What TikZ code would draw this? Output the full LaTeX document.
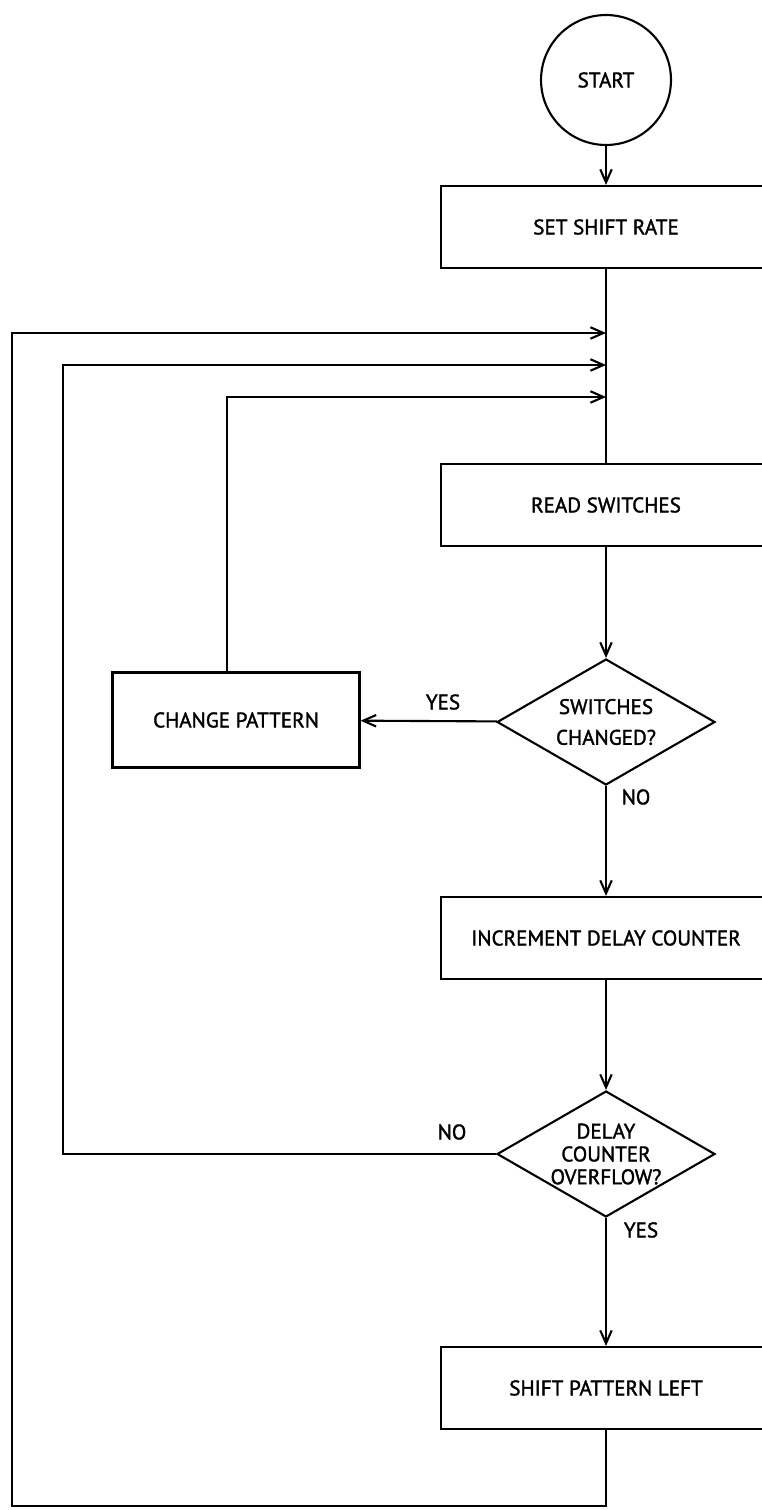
\documentclass[tikz,border=0pt]{standalone}
\usepackage{fontspec}
\setmainfont{PT Sans}
\newfontfamily\chartfont[FakeBold=1.6]{PT Sans}
\usetikzlibrary{arrows.meta,shapes.geometric}

\begin{document}
\begin{tikzpicture}[x=0.02cm,y=-0.02cm,line width=1.2pt,>={Straight Barb[length=2.6mm,width=2.3mm]},
  txt/.style={font=\chartfont\fontsize{12}{14}\selectfont},
  proc/.style={txt,draw,minimum width=6.6cm,minimum height=1.64cm,inner sep=2pt},
  dec/.style={draw,diamond,aspect=1.73,minimum width=4.36cm,minimum height=2.52cm,inner sep=-6pt,align=center}]
\useasboundingbox (0,0) rectangle (761,1510);
% main column
\node[txt,draw,circle,minimum size=2.6cm] (start) at (606,80) {START};
\node[proc] (set_rate) at (606,227) {SET SHIFT RATE};
\node[proc] (read_sw) at (606,505) {READ SWITCHES};
\node[dec,font=\chartfont\fontsize{12}{17.5}\selectfont] (sw_chg) at (606,722) {SWITCHES\\CHANGED?};
\node[txt,draw,minimum width=4.94cm,minimum height=1.9cm] (chg_pat) at (236,720) {CHANGE PATTERN};
\node[proc] (inc_dly) at (606,938) {INCREMENT DELAY COUNTER};
\node[dec,font=\chartfont\fontsize{12}{13}\selectfont] (dly_ovf) at (606,1154) {DELAY\\COUNTER\\OVERFLOW?};
\node[proc] (shift_l) at (606,1388) {SHIFT PATTERN LEFT};
% branch labels
\node[txt] (yes_a) at (443,702) {YES};
\node[txt] (no_a) at (636,797) {NO};
\node[txt] (no_b) at (452,1132) {NO};
\node[txt] (yes_b) at (641,1230) {YES};
% loop points
\coordinate (in1) at (606,333);
\coordinate (in2) at (606,365);
\coordinate (in3) at (606,397);
\coordinate (c1) at (12,333);
\coordinate (c2) at (63,365);
\coordinate (c3) at (227,397);
\coordinate (bot) at (12,1506);
% connectors
\draw[->] (start) -- (set_rate);
\draw (set_rate) -- (read_sw);
\draw[->] (read_sw) -- (sw_chg);
\draw[->] (sw_chg) -- (chg_pat);
\draw[->] (sw_chg) -- (inc_dly);
\draw[->] (inc_dly) -- (dly_ovf);
\draw[->] (dly_ovf) -- (shift_l);
\draw[->] (chg_pat.north -| c3) -- (c3) -- (in3);
\draw[->] (dly_ovf.west) -| (c2) -- (in2);
\draw[->] (shift_l.south) |- (bot) -- (c1) -- (in1);
\end{tikzpicture}
\end{document}
